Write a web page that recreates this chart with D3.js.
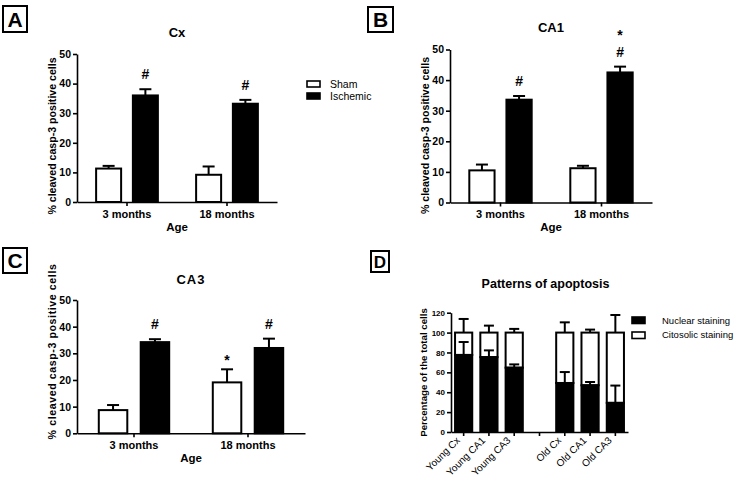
<!DOCTYPE html>
<html>
<head>
<meta charset="utf-8">
<script src="https://cdn.jsdelivr.net/npm/d3@7"></script>
<style>
  html, body { margin: 0; padding: 0; background: #fff; }
  svg { display: block; }
  text { font-family: "Liberation Sans", Arial, sans-serif; fill: #000; }
</style>
</head>
<body>
<svg id="chart" width="734" height="477"></svg>
<script>
// ---------- DATA ----------
const ages = ["3 months", "18 months"];
const seriesNames = ["Sham", "Ischemic"];

const cxSham = [11.3, 9.2];
const cxShamErr = [0.9, 2.8];
const cxIsch = [36.0, 33.2];
const cxIschErr = [2.1, 1.3];
const cxShamMarks = [[], []];
const cxIschMarks = [["#"], ["#"]];

const ca1Sham = [10.5, 11.2];
const ca1ShamErr = [1.9, 0.8];
const ca1Isch = [33.6, 42.5];
const ca1IschErr = [1.2, 1.9];
const ca1ShamMarks = [[], []];
const ca1IschMarks = [["#"], ["*", "#"]];

const ca3Sham = [8.7, 19.1];
const ca3ShamErr = [1.9, 4.9];
const ca3Isch = [34.2, 32.0];
const ca3IschErr = [1.1, 3.5];
const ca3ShamMarks = [[], ["*"]];
const ca3IschMarks = [["#"], ["#"]];

const yTicks50 = [0, 10, 20, 30, 40, 50];

const dCategories = ["Young Cx", "Young CA1", "Young CA3", "", "Old Cx", "Old CA1", "Old CA3"];
const nuclear = [77.5, 75.3, 64.7, null, 49.3, 47.0, 29.3];
const nuclearErr = [13.0, 6.8, 3.3, null, 11.0, 3.3, 17.4];
const citosolic = [22.5, 24.7, 35.3, null, 50.7, 53.0, 70.7];
const citosolicErr = [13.7, 7.0, 3.7, null, 10.3, 3.0, 17.7];
const dSeries = ["Nuclear staining", "Citosolic staining"];
const yTicks120 = [0, 20, 40, 60, 80, 100, 120];

const svg = d3.select("#chart");
const FONT = '"Liberation Sans", Arial, sans-serif';

function panelLabel(letter, x, y, w, h, fs) {
  svg.append("rect").attr("x", x).attr("y", y).attr("width", w).attr("height", h)
    .attr("fill", "#fff").attr("stroke", "#000").attr("stroke-width", 2);
  svg.append("text").attr("x", x + w / 2).attr("y", y + h / 2 + fs * 0.36)
    .attr("text-anchor", "middle").attr("font-size", fs).attr("font-weight", "bold").text(letter);
}

function styleAxis(g, fs) {
  g.selectAll("path.domain").attr("stroke", "#000").attr("stroke-width", 1.6);
  g.selectAll(".tick line").attr("stroke", "#000").attr("stroke-width", 1.6);
  g.selectAll(".tick text").attr("font-size", fs).attr("font-weight", "bold")
    .attr("font-family", FONT).attr("fill", "#000");
}

function barPanel(o) {
  const x0 = d3.scaleBand().domain(ages).range(o.xr).paddingInner(0).paddingOuter(0);
  const x1 = d3.scaleBand().domain(seriesNames).range([0, x0.bandwidth()])
    .paddingInner(0.32).paddingOuter(0.52);
  const y = d3.scaleLinear().domain([0, 50]).range(o.yr);
  const g = svg.append("g");

  const rows = [];
  ages.forEach((a, i) => {
    rows.push({ age: a, s: "Sham", v: o.sham[i], e: o.shamErr[i], m: o.shamMarks[i] });
    rows.push({ age: a, s: "Ischemic", v: o.isch[i], e: o.ischErr[i], m: o.ischMarks[i] });
  });
  const bx = d => x0(d.age) + x1(d.s);
  const bw = x1.bandwidth();

  // error bars (upward)
  rows.forEach(d => {
    const cx = bx(d) + bw / 2;
    g.append("line").attr("x1", cx).attr("x2", cx).attr("y1", y(d.v)).attr("y2", y(d.v + d.e))
      .attr("stroke", "#000").attr("stroke-width", 2);
    g.append("line").attr("x1", cx - 6).attr("x2", cx + 6).attr("y1", y(d.v + d.e)).attr("y2", y(d.v + d.e))
      .attr("stroke", "#000").attr("stroke-width", 2);
  });
  g.selectAll("rect.bar").data(rows).join("rect").attr("class", "bar")
    .attr("x", d => bx(d)).attr("width", bw)
    .attr("y", d => y(d.v)).attr("height", d => y(0) - y(d.v))
    .attr("fill", d => d.s === "Sham" ? "#fff" : "#000")
    .attr("stroke", "#000").attr("stroke-width", 2);

  // significance marks
  rows.forEach(d => {
    const cx = bx(d) + bw / 2;
    const top = y(d.v + d.e);
    const n = d.m.length;
    d.m.forEach((t, k) => {
      let base = top - 10 - (n - 1 - k) * 17;
      if (t === "*" && k === n - 1) base += 6;
      g.append("text").attr("x", cx).attr("y", base)
        .attr("text-anchor", "middle").attr("font-size", 14).attr("font-weight", "bold").text(t);
    });
  });

  const ya = g.append("g").attr("transform", `translate(${o.xr[0]},0)`)
    .call(d3.axisLeft(y).tickValues(yTicks50).tickSize(4).tickSizeOuter(0).tickPadding(2));
  styleAxis(ya, 10.5);
  const xa = g.append("g").attr("transform", `translate(0,${o.yr[0]})`)
    .call(d3.axisBottom(x0).tickSize(4).tickSizeOuter(0).tickPadding(4));
  styleAxis(xa, 11);

  const cxm = (o.xr[0] + o.xr[1]) / 2;
  g.append("text").attr("x", cxm).attr("y", o.titleY).attr("text-anchor", "middle")
    .attr("font-size", 13).attr("font-weight", "bold")
    .attr("letter-spacing", o.titleSpacing || 0).text(o.title);
  g.append("text").attr("x", cxm).attr("y", o.ageY).attr("text-anchor", "middle")
    .attr("font-size", 11.5).attr("font-weight", "bold").text("Age");
  g.append("text").attr("transform", "rotate(-90)")
    .attr("x", -o.ylabY).attr("y", o.ylabX).attr("text-anchor", "middle")
    .attr("font-size", 10.6).attr("font-weight", "bold")
    .attr("letter-spacing", o.ylabSpacing || 0)
    .text("% cleaved casp-3 positive cells");
}

// Panel A
panelLabel("A", 3, 6, 24, 26, 21);
barPanel({ xr: [77, 277], yr: [202, 54], sham: cxSham, shamErr: cxShamErr, isch: cxIsch, ischErr: cxIschErr,
  shamMarks: cxShamMarks, ischMarks: cxIschMarks, title: "Cx", titleY: 37, ageY: 231, ylabX: 56, ylabY: 136 });

// Legend A
const legA = svg.append("g");
seriesNames.forEach((s, i) => {
  legA.append("rect").attr("x", 307).attr("y", 81 + i * 12).attr("width", 13).attr("height", 6)
    .attr("fill", s === "Sham" ? "#fff" : "#000").attr("stroke", "#000").attr("stroke-width", 1.6);
  legA.append("text").attr("x", 330).attr("y", 87.5 + i * 12.5).attr("font-size", 10.5).text(s);
});

// Panel B
panelLabel("B", 368, 7, 25, 25, 21);
barPanel({ xr: [450, 652], yr: [202.5, 49.5], sham: ca1Sham, shamErr: ca1ShamErr, isch: ca1Isch, ischErr: ca1IschErr,
  shamMarks: ca1ShamMarks, ischMarks: ca1IschMarks, title: "CA1", titleY: 32, ageY: 231, ylabX: 429, ylabY: 135.5 });

// Panel C
panelLabel("C", 3, 248, 24, 25, 21);
barPanel({ xr: [77, 305], yr: [433.3, 300], sham: ca3Sham, shamErr: ca3ShamErr, isch: ca3Isch, ischErr: ca3IschErr,
  shamMarks: ca3ShamMarks, ischMarks: ca3IschMarks, title: "CA3", titleY: 284, titleSpacing: 1,
  ageY: 462, ylabX: 56, ylabY: 351.5, ylabSpacing: 0.6 });

// Panel D
panelLabel("D", 371, 251, 18, 21, 17);
(function () {
  const x = d3.scaleBand().domain(dCategories).range([451, 628]).paddingInner(0.32).paddingOuter(0.16);
  const y = d3.scaleLinear().domain([0, 120]).range([432, 312.7]);
  const g = svg.append("g");
  const rows = dCategories.map((c, i) => ({ c, n: nuclear[i], ne: nuclearErr[i], t: citosolic[i], te: citosolicErr[i] }))
    .filter(d => d.c !== "");
  const bw = x.bandwidth();
  rows.forEach(d => {
    const cx = x(d.c) + bw / 2;
    const topAll = d.n + d.t;
    g.append("line").attr("x1", cx).attr("x2", cx).attr("y1", y(topAll)).attr("y2", y(topAll + d.te))
      .attr("stroke", "#000").attr("stroke-width", 2);
    g.append("line").attr("x1", cx - 5).attr("x2", cx + 5).attr("y1", y(topAll + d.te)).attr("y2", y(topAll + d.te))
      .attr("stroke", "#000").attr("stroke-width", 2);
  });
  g.selectAll("rect.cit").data(rows).join("rect").attr("class", "cit")
    .attr("x", d => x(d.c)).attr("width", bw)
    .attr("y", d => y(d.n + d.t)).attr("height", d => y(d.n) - y(d.n + d.t))
    .attr("fill", "#fff").attr("stroke", "#000").attr("stroke-width", 2);
  rows.forEach(d => {
    const cx = x(d.c) + bw / 2;
    g.append("line").attr("x1", cx).attr("x2", cx).attr("y1", y(d.n)).attr("y2", y(d.n + d.ne))
      .attr("stroke", "#000").attr("stroke-width", 2);
    g.append("line").attr("x1", cx - 5).attr("x2", cx + 5).attr("y1", y(d.n + d.ne)).attr("y2", y(d.n + d.ne))
      .attr("stroke", "#000").attr("stroke-width", 2);
  });
  g.selectAll("rect.nuc").data(rows).join("rect").attr("class", "nuc")
    .attr("x", d => x(d.c)).attr("width", bw)
    .attr("y", d => y(d.n)).attr("height", d => y(0) - y(d.n))
    .attr("fill", "#000").attr("stroke", "#000").attr("stroke-width", 2);

  const ya = g.append("g").attr("transform", "translate(451,0)")
    .call(d3.axisLeft(y).tickValues(yTicks120).tickSize(4).tickSizeOuter(0).tickPadding(2));
  styleAxis(ya, 8);
  const xa = g.append("g").attr("transform", "translate(0,432)")
    .call(d3.axisBottom(x).tickSize(4).tickSizeOuter(0).tickFormat(""));
  styleAxis(xa, 9);
  rows.forEach(d => {
    const cx = x(d.c) + bw / 2;
    g.append("text").attr("transform", `translate(${cx - 3},${441}) rotate(-45)`)
      .attr("text-anchor", "end").attr("font-size", 10).text(d.c);
  });

  g.append("text").attr("x", 545.5).attr("y", 287.5).attr("text-anchor", "middle")
    .attr("font-size", 12.5).attr("font-weight", "bold").text("Patterns of apoptosis");
  g.append("text").attr("transform", "rotate(-90)").attr("x", -372.5).attr("y", 426.5)
    .attr("text-anchor", "middle").attr("font-size", 9.7).attr("font-weight", "bold")
    .text("Percentage of the total cells");

  dSeries.forEach((s, i) => {
    g.append("rect").attr("x", 632).attr("y", 317 + i * 15).attr("width", 13).attr("height", 6.5)
      .attr("fill", i === 0 ? "#000" : "#fff").attr("stroke", "#000").attr("stroke-width", 1.6);
    g.append("text").attr("x", 662).attr("y", 324 + i * 13.5).attr("font-size", 9.5).text(s);
  });
})();
</script>
</body>
</html>
